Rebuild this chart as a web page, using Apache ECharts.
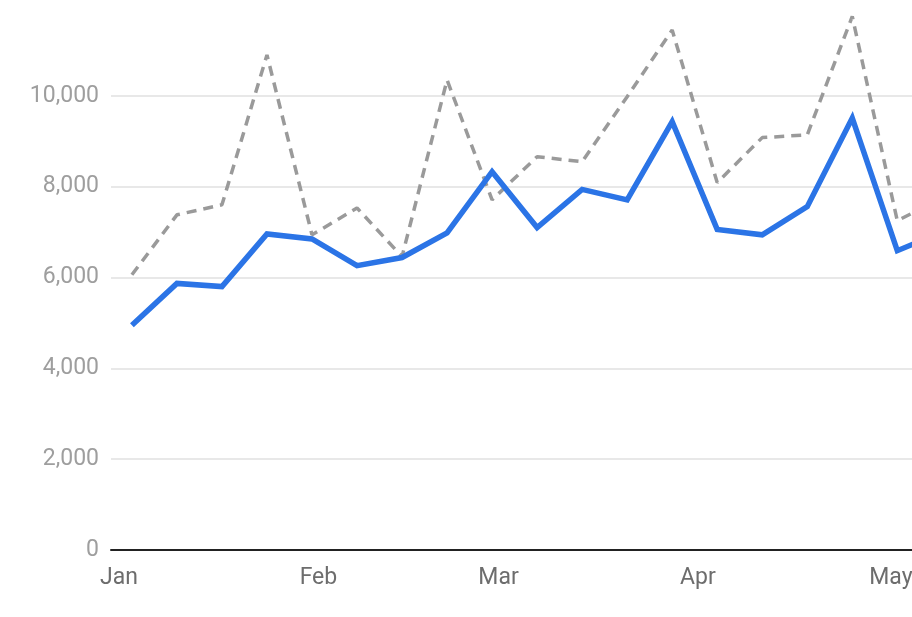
<!DOCTYPE html>
<html>
<head>
<meta charset="utf-8">
<script src="https://cdn.jsdelivr.net/npm/echarts@6/dist/echarts.min.js"></script>
<style>
  html, body { margin: 0; padding: 0; background: #fff; overflow: hidden; width: 912px; height: 617px; }
  #grafico { width: 960px; height: 617px; }
</style>
</head>
<body>
<div id="grafico"></div>
<script>
// datos: una semana por punto
const semanas = [
  "2015-01-03", "2015-01-10", "2015-01-17", "2015-01-24", "2015-01-31",
  "2015-02-07", "2015-02-14", "2015-02-21", "2015-02-28", "2015-03-07",
  "2015-03-14", "2015-03-21", "2015-03-28", "2015-04-04", "2015-04-11",
  "2015-04-18", "2015-04-25", "2015-05-02", "2015-05-09"
];
const actual = [
  4950, 5870, 5800, 6960, 6850, 6260, 6440, 6980, 8330, 7100,
  7940, 7710, 9430, 7060, 6940, 7560, 9510, 6590, 7000
];
const anterior = [
  6060, 7380, 7600, 10900, 6940, 7530, 6460, 10350, 7710, 8660,
  8550, 9980, 11450, 8090, 9080, 9140, 11750, 7250, 7750
];
const nombresMeses = ["Jan", "Feb", "Mar", "Apr", "May", "Jun", "Jul", "Aug", "Sep", "Oct", "Nov", "Dec"];
const ticksY = [0, 2000, 4000, 6000, 8000, 10000, 12000];

const DIA = 86400000;
const ts = (s) => new Date(s + "T00:00:00").getTime();
const inicio = ts("2015-01-01") - 1.25 * DIA;
const fin = inicio + 132 * DIA;

const container = document.querySelector("#grafico");
const miGrafico = echarts.init(container, null, { renderer: "canvas" });

const option = {
  animation: false,
  grid: { left: 111, right: 0, top: 5, bottom: 67, containLabel: false },
  xAxis: {
    type: "time",
    min: inicio,
    max: fin,
    minInterval: 28 * DIA,
    maxInterval: 31 * DIA,
    axisLine: { show: true, lineStyle: { color: "#222", width: 2 } },
    axisTick: { show: false },
    splitLine: { show: false },
    axisLabel: {
      formatter: (v) => {
        const d = new Date(v);
        return d.getDate() === 1 && d.getHours() === 0 ? nombresMeses[d.getMonth()] : "";
      },
      color: "#6d6d6d",
      fontFamily: "Roboto",
      fontSize: 23,
      margin: 17,
      hideOverlap: false
    }
  },
  yAxis: {
    type: "value",
    min: ticksY[0],
    max: ticksY[ticksY.length - 1],
    interval: 2000,
    axisLine: { show: false },
    axisTick: { show: false },
    splitLine: { show: true, showMaxLine: false, lineStyle: { color: "#e0e0e0", width: 1.5 } },
    axisLabel: {
      showMaxLabel: false,
      formatter: (v) => v.toLocaleString("en-US"),
      color: "#9e9e9e",
      fontFamily: "Roboto",
      fontSize: 23,
      margin: 12
    }
  },
  series: [
    {
      name: "Anterior",
      type: "line",
      data: semanas.map((s, i) => [ts(s), anterior[i]]),
      showSymbol: false,
      symbol: "none",
      clip: true,
      lineStyle: { color: "#9a9a9a", width: 3.5, type: [10, 7] },
      z: 2
    },
    {
      name: "Actual",
      type: "line",
      data: semanas.map((s, i) => [ts(s), actual[i]]),
      showSymbol: false,
      symbol: "none",
      clip: true,
      lineStyle: { color: "#2b74e6", width: 5.5, join: "miter" },
      z: 3
    }
  ]
};
miGrafico.setOption(option);
</script>
</body>
</html>
